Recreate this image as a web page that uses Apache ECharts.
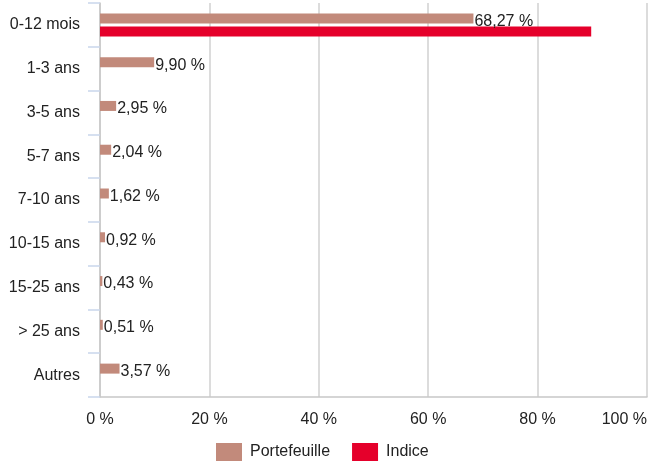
<!DOCTYPE html>
<html><head><meta charset="utf-8">
<script src="https://cdn.jsdelivr.net/npm/echarts@6/dist/echarts.min.js"></script>
<style>html,body{margin:0;padding:0;background:#fff}#c{width:649px;height:466px}</style>
</head><body><div id="c"></div>
<script>
const categories = ['0-12 mois','1-3 ans','3-5 ans','5-7 ans','7-10 ans','10-15 ans','15-25 ans','> 25 ans','Autres'];
const portefeuille = [68.27, 9.90, 2.95, 2.04, 1.62, 0.92, 0.43, 0.51, 3.57];
const indice = [89.8, null, null, null, null, null, null, null, null];
const xTicks = [0, 20, 40, 60, 80, 100];

const fmt = v => v.toFixed(2).replace('.', ',') + ' %';
const chart = echarts.init(document.getElementById('c'));
chart.setOption({
  animation: false,
  textStyle: {fontFamily: 'Liberation Sans, Arial, sans-serif'},
  grid: {left: 100, right: 2, top: 3, bottom: 69, containLabel: false, outerBoundsMode: 'none'},
  legend: {
    top: 443, left: 216, padding: 0, itemWidth: 26, itemHeight: 18, itemGap: 22,
    icon: 'rect',
    textStyle: {fontSize: 16, color: '#222', padding: [0, 0, 0, 3], fontFamily: 'Liberation Sans, Arial, sans-serif'},
    data: ['Portefeuille', 'Indice']
  },
  xAxis: {
    type: 'value', min: xTicks[0], max: xTicks[xTicks.length-1], interval: 20,
    axisLine: {show: true, lineStyle: {color: '#c8c8c8', width: 1.5}},
    axisTick: {show: false},
    splitLine: {show: true, lineStyle: {color: '#d0d0d0', width: 1.5}},
    axisLabel: {fontSize: 16, color: '#222', margin: 15, alignMaxLabel: 'right', formatter: v => v + ' %'}
  },
  yAxis: {
    type: 'category', data: categories, inverse: true,
    axisLine: {show: true, lineStyle: {color: '#c8c8c8', width: 1.5}},
    axisTick: {show: true, length: 12, lineStyle: {color: '#c9d6ec', width: 1.5}},
    axisLabel: {fontSize: 16, color: '#222', margin: 20}
  },
  series: [
    {
      name: 'Portefeuille', type: 'bar', data: portefeuille,
      barWidth: 10, barGap: '30%',
      itemStyle: {color: '#c28a7b'},
      label: {show: true, position: 'right', distance: 1, fontSize: 16, color: '#222', formatter: p => fmt(p.value), offset: [0, 3]}
    },
    {
      name: 'Indice', type: 'bar', data: indice,
      barWidth: 10,
      itemStyle: {color: '#e5002b'}
    }
  ]
});
</script></body></html>
